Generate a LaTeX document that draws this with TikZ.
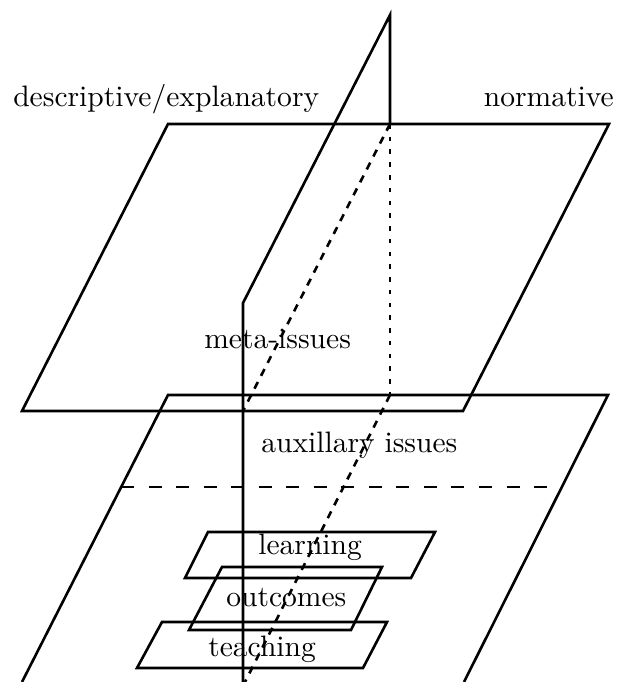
\documentclass[tikz,border=0pt]{standalone}
\usepackage{amsmath, tikz}

\begin{document}
\begin{tikzpicture}[x=3.45pt, y=3.45pt, line width=0.9pt,
    font=\fontsize{10.2}{12}\selectfont,
    lbl/.style={inner sep=0pt, anchor=base west},
    hidden/.style={dash pattern=on 2.6pt off 2.4pt},
    behind/.style={dash pattern=on 1.6pt off 2.8pt},
    split/.style={dash pattern=on 4.5pt off 5pt}]
  \useasboundingbox (0,0) rectangle (61.8,68.2);
  % upper plane
  \draw (16.8,55.8) -- (60.9,55.8) -- (46.3,27.1) -- (2.2,27.1) -- cycle;
  % lower plane, cut at the bottom
  \draw (2.2,0) -- (16.8,28.7) -- (60.8,28.7) -- (46.4,0);
  \draw[split] (12.1,19.5) -- (56.1,19.5);
  % upright sheet
  \draw (24.3,0) -- (24.3,37.9) -- (39.0,66.7) -- (39.0,55.8);
  \draw[hidden] (39.0,55.8) -- (24.3,27.1);
  \draw[behind] (39.0,55.8) -- (39.0,28.7);
  \draw[hidden] (39.0,28.7) -- (24.5,0);
  % small planes
  \draw (20.8,15.0) -- (43.5,15.0) -- (41.1,10.4) -- (18.5,10.4) -- cycle;
  \draw (22.2,11.5) -- (38.2,11.5) -- (35.1,5.2) -- (18.9,5.2) -- cycle;
  \draw (16.2,6.0) -- (38.7,6.0) -- (36.3,1.4) -- (13.7,1.4) -- cycle;
  % labels
  \node[lbl] (descr) at (1.2,57.5) {descriptive/explanatory};
  \node[lbl, anchor=base east] (norm) at (61.5,57.5) {normative};
  \node[lbl] (meta) at (20.3,33.3) {meta-issues};
  \node[lbl] (aux) at (26.0,22.9) {auxillary issues};
  \node[lbl] (learn) at (25.7,12.7) {learning};
  \node[lbl] (outc) at (22.5,7.5) {outcomes};
  \node[lbl] (teach) at (20.7,2.5) {teaching};
\end{tikzpicture}
\end{document}
